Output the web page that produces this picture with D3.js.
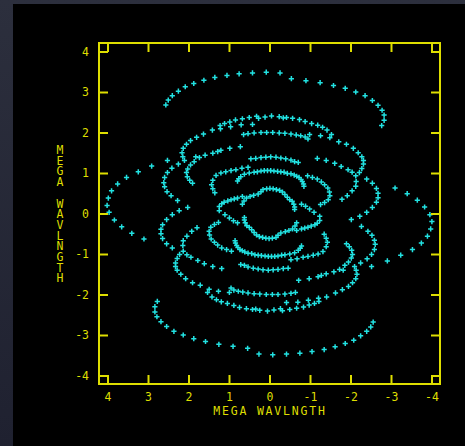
<!DOCTYPE html>
<html>
<head>
<meta charset="utf-8">
<script src="https://cdn.jsdelivr.net/npm/d3@7"></script>
<style>
  html, body { margin: 0; padding: 0; width: 465px; height: 446px; overflow: hidden;
    background: linear-gradient(#2c2f3d, #1f2130); }
  svg { display: block; }
</style>
</head>
<body>
<svg id="chart" width="465" height="446"></svg>
<script>
// Axis ticks and titles (megawavelengths)
const uTicks = [4, 3, 2, 1, 0, -1, -2, -3, -4];
const vTicks = [4, 3, 2, 1, 0, -1, -2, -3, -4];
const xTitle = "MEGA WAVLNGTH";
const yTitle = "MEGA WAVLNGTH";

// Baseline tracks in the (u, v) plane; each sample is also plotted at (-u, -v)
const trackA = [[2.56,2.68],[2.50,2.80],[2.40,2.91],[2.25,3.02],[2.08,3.13],[1.87,3.21],[1.62,3.29],[1.35,3.36],[1.05,3.41],[0.75,3.45],[0.42,3.47],[0.08,3.49],[-0.26,3.47],[-0.54,3.33],[-0.90,3.28],[-1.25,3.23],[-1.58,3.16],[-1.87,3.09],[-2.13,3.00],[-2.36,2.91],[-2.54,2.79],[-2.68,2.67],[-2.78,2.55],[-2.83,2.43],[-2.83,2.30],[-2.77,2.17]];
const trackB = [[2.52,1.31],[2.91,1.17],[3.24,1.03],[3.53,0.89],[3.75,0.73],[3.90,0.56],[3.98,0.38],[4.01,0.20],[3.96,0.03],[3.83,-0.16],[3.65,-0.33],[3.40,-0.49],[3.10,-0.63]];
const trackC = [[2.10,1.31],[2.14,1.40],[2.16,1.50],[2.13,1.61],[2.05,1.71],[1.95,1.80],[1.80,1.88],[1.63,1.96],[1.41,2.06],[1.22,2.17],[1.11,2.22],[0.98,2.26],[0.84,2.31],[0.67,2.34],[0.50,2.37],[0.32,2.40],[0.11,2.38],[-0.05,2.41],[-0.24,2.39],[-0.42,2.37],[-0.57,2.35],[-0.74,2.32],[-0.88,2.27],[-1.04,2.22],[-1.19,2.18],[-1.31,2.13],[-1.42,2.06],[-1.53,1.95],[-1.71,1.77],[-1.90,1.71],[-2.07,1.61],[-2.19,1.50],[-2.28,1.40],[-2.32,1.31],[-2.32,1.22],[-2.28,1.11],[-2.22,1.01]];
const trackD = [[1.21,2.09],[0.96,2.14],[0.70,2.19],[0.42,2.20],[0.27,2.35],[-0.34,2.36],[-1.49,1.87],[-1.26,1.92],[-0.99,1.95]];
const trackE = [[0.72,1.65],[0.98,1.61],[1.20,1.56],[1.28,1.53],[1.40,1.49],[1.59,1.44],[1.73,1.38],[1.82,1.40],[1.86,1.28],[1.95,1.20],[2.02,1.10],[2.05,1.01],[2.03,0.91],[1.97,0.82],[1.90,0.75]];
const trackF = [[2.25,1.22],[2.41,1.12],[2.52,1.01],[2.59,0.89],[2.61,0.76],[2.59,0.66],[2.53,0.54],[2.43,0.44],[2.27,0.32],[2.02,0.15],[2.23,0.07]];
const trackG = [[0.64,1.95],[0.53,1.97],[0.38,1.99],[0.21,2.00],[0.07,2.00],[-0.08,2.00],[-0.24,1.99],[-0.38,1.98],[-0.53,1.96],[-0.66,1.94],[-0.77,1.92],[-0.88,1.89],[-0.95,1.84]];
const trackH = [[0.46,1.35],[0.34,1.36],[0.21,1.38],[0.09,1.39],[-0.03,1.40],[-0.16,1.39],[-0.28,1.37],[-0.40,1.35],[-0.53,1.32],[-0.62,1.28],[-0.71,1.26]];
const trackI = [[-1.18,1.36],[-1.40,1.31],[-1.61,1.24],[-1.77,1.16],[-1.94,1.08],[-2.04,1.02],[-2.13,0.93],[-2.14,0.79],[-2.13,0.67],[-2.04,0.56],[-1.92,0.44],[-1.79,0.35]];
const trackJ = [[-2.40,0.85],[-2.54,0.75],[-2.64,0.62],[-2.68,0.50],[-2.68,0.39],[-2.64,0.28],[-2.54,0.15],[-2.40,0.03]];
const trackK = [[1.35,0.51],[1.40,0.61],[1.43,0.71],[1.40,0.82],[1.32,0.94],[1.20,1.00],[1.08,1.03],[0.95,1.06],[0.83,1.08],[0.68,1.12],[0.53,1.14]];
const trackL = [[0.79,0.80],[0.76,0.86],[0.71,0.91],[0.62,0.97],[0.50,1.00],[0.38,1.02],[0.30,1.03],[0.21,1.05],[0.13,1.06],[0.05,1.06],[-0.03,1.06],[-0.11,1.05],[-0.20,1.04],[-0.28,1.03],[-0.36,1.02],[-0.44,0.99],[-0.53,0.98],[-0.61,0.95],[-0.67,0.92],[-0.73,0.89],[-0.78,0.84],[-0.81,0.79],[-0.84,0.73],[-0.85,0.67]];
const trackM = [[-0.94,0.93],[-1.06,0.89],[-1.18,0.85],[-1.28,0.78],[-1.36,0.71],[-1.44,0.63],[-1.48,0.53],[-1.49,0.44],[-1.45,0.34],[-1.36,0.27],[-1.26,0.22]];
const trackN = [[1.24,0.07],[1.24,0.17],[1.18,0.24],[1.12,0.28],[1.03,0.31],[0.95,0.34],[0.87,0.36],[0.79,0.38],[0.67,0.42],[-0.79,0.23],[-0.89,0.18],[-0.99,0.11],[-1.10,0.03]];
const trackO = [[0.67,0.23],[0.63,0.31],[0.57,0.38],[0.48,0.42],[0.39,0.45],[0.28,0.48],[0.21,0.54],[0.16,0.59],[0.07,0.61],[-0.01,0.62],[-0.09,0.61],[-0.17,0.59],[-0.25,0.57],[-0.32,0.53],[-0.38,0.47],[-0.44,0.40],[-0.50,0.34],[-0.56,0.30],[-0.60,0.23],[-0.62,0.16],[-0.62,0.10]];

const tracks = [trackA, trackB, trackC, trackD, trackE, trackF, trackG, trackH,
                trackI, trackJ, trackK, trackL, trackM, trackN, trackO];

const YELLOW = "#dede00";
const CYAN = "#22e2e2";
const FONT = "'DejaVu Sans Mono', 'Liberation Mono', monospace";

const svg = d3.select("#chart");

// Black plotting surface
svg.append("rect").attr("x", 13).attr("y", 4).attr("width", 452).attr("height", 442).attr("fill", "#000");

const x = d3.scaleLinear().domain([4.21, -4.21]).range([99, 440]);
const y = d3.scaleLinear().domain([-4.21, 4.21]).range([384, 43]);

// Samples plus their Hermitian conjugates
const samples = [];
tracks.forEach(t => t.forEach(([u, v]) => { samples.push([u, v]); samples.push([-u, -v]); }));

svg.append("g").selectAll("path").data(samples).join("path")
  .attr("transform", d => `translate(${x(d[0])},${y(d[1])})`)
  .attr("d", "M-2.6,0H2.6M0,-2.6V2.6")
  .attr("stroke", CYAN).attr("stroke-width", 1.5).attr("fill", "none");

// Axes: ticks point inward on all four sides
const fmt = d => String(d);
function styleAxis(g) {
  g.select(".domain").remove();
  g.selectAll(".tick line").attr("stroke", YELLOW).attr("stroke-width", 2);
  g.selectAll(".tick text").attr("fill", YELLOW).attr("font-family", FONT).attr("font-size", 11.5);
}
svg.append("g").attr("transform", "translate(0,384)")
  .call(d3.axisBottom(x).tickValues(uTicks).tickFormat(fmt).tickSize(-9).tickSizeOuter(0).tickPadding(9))
  .call(styleAxis);
svg.append("g").attr("transform", "translate(0,43)")
  .call(d3.axisTop(x).tickValues(uTicks).tickFormat("").tickSize(-9).tickSizeOuter(0))
  .call(styleAxis);
svg.append("g").attr("transform", "translate(99,0)")
  .call(d3.axisLeft(y).tickValues(vTicks).tickFormat(fmt).tickSize(-9).tickSizeOuter(0).tickPadding(10))
  .call(styleAxis);
svg.append("g").attr("transform", "translate(440,0)")
  .call(d3.axisRight(y).tickValues(vTicks).tickFormat("").tickSize(-9).tickSizeOuter(0))
  .call(styleAxis);

// Frame
svg.append("rect").attr("x", 99).attr("y", 43).attr("width", 341).attr("height", 341)
  .attr("fill", "none").attr("stroke", YELLOW).attr("stroke-width", 2);

// Titles
svg.append("text").attr("x", 270).attr("y", 415).attr("text-anchor", "middle")
  .attr("fill", YELLOW).attr("font-family", FONT).attr("font-size", 11.5)
  .attr("letter-spacing", "1.8px").text(xTitle);

// Vertical title: upright letters stacked top to bottom
svg.append("text").attr("x", 60).attr("y", 143)
  .attr("fill", YELLOW).attr("font-family", FONT).attr("font-size", 11.5)
  .style("writing-mode", "vertical-rl").style("text-orientation", "upright")
  .attr("letter-spacing", "-3.3px")
  .text(yTitle);
</script>
</body>
</html>
